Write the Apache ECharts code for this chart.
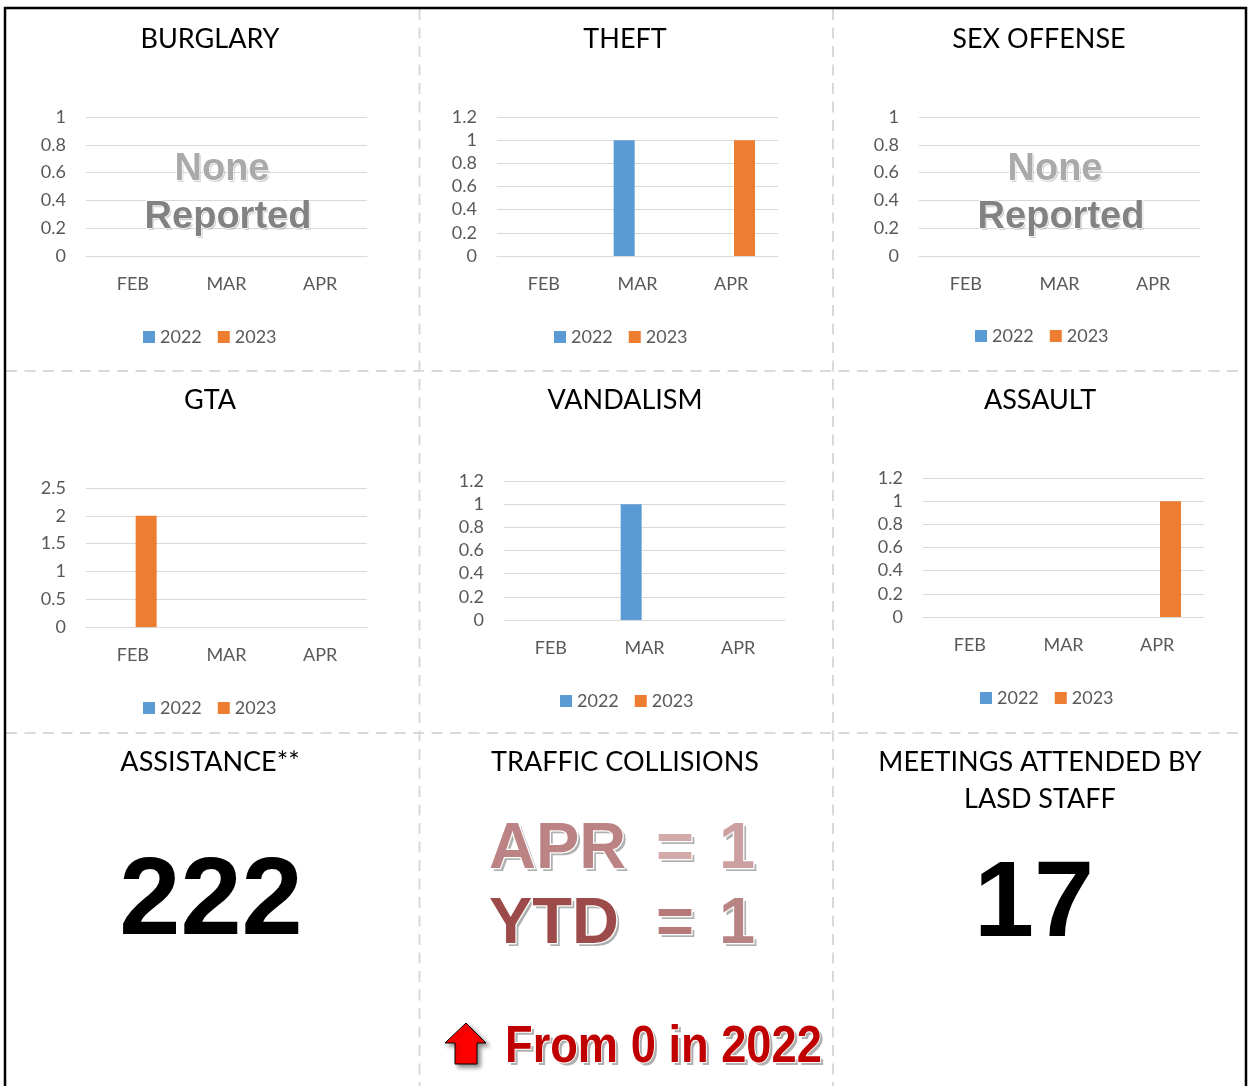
<!DOCTYPE html>
<html><head><meta charset="utf-8">
<script src="https://cdn.jsdelivr.net/npm/echarts@6/dist/echarts.min.js"></script>
<style>html,body{margin:0;padding:0;background:#fff}#c{width:1248px;height:1086px}</style>
</head><body><div id="c"></div>
<script>
// ---- data ----
const months = ['FEB', 'MAR', 'APR'];
const seriesNames = ['2022', '2023'];
const panelTitles = ['BURGLARY', 'THEFT', 'SEX OFFENSE', 'GTA', 'VANDALISM', 'ASSAULT'];
const burglary2022 = [0, 0, 0];
const burglary2023 = [0, 0, 0];
const theft2022 = [0, 1, 0];
const theft2023 = [0, 0, 1];
const sexOffense2022 = [0, 0, 0];
const sexOffense2023 = [0, 0, 0];
const gta2022 = [0, 0, 0];
const gta2023 = [2, 0, 0];
const vandalism2022 = [0, 1, 0];
const vandalism2023 = [0, 0, 0];
const assault2022 = [0, 0, 0];
const assault2023 = [0, 0, 1];
const yMax = [1, 1.2, 1, 2.5, 1.2, 1.2];
const yStep = [0.2, 0.2, 0.2, 0.5, 0.2, 0.2];
const noneReported = [true, false, true, false, false, false];
const assistanceTitle = 'ASSISTANCE**';
const assistanceValue = '222';
const trafficTitle = 'TRAFFIC COLLISIONS';
const trafficMonthLabel = 'APR', trafficMonthValue = '1';
const trafficYtdLabel = 'YTD', trafficYtdValue = '1';
const trafficNote = 'From 0 in 2022';
const meetingsTitle = ['MEETINGS ATTENDED BY', 'LASD STAFF'];
const meetingsValue = '17';

const data2022 = [burglary2022, theft2022, sexOffense2022, gta2022, vandalism2022, assault2022];
const data2023 = [burglary2023, theft2023, sexOffense2023, gta2023, vandalism2023, assault2023];

// ---- layout ----
const gridPos = [
  {left: 86, top: 117}, {left: 497, top: 117}, {left: 919, top: 117},
  {left: 86, top: 488}, {left: 504, top: 481}, {left: 923, top: 478}
];
const legendPos = [
  {left: 143, top: 328}, {left: 554, top: 328}, {left: 975, top: 327},
  {left: 143, top: 699}, {left: 560, top: 692}, {left: 980, top: 689}
];
const titlePos = [[210, 39], [625, 39], [1039, 39], [210, 400], [625, 400], [1040, 400]];
const noneCenters = [[222, 228], null, [1055, 1061]];

const FONT = 'Lato';
const colors = ['#5b9bd5', '#ed7d31'];

const grids = [], xAxes = [], yAxes = [], series = [], legends = [];
for (let i = 0; i < 6; i++) {
  grids.push({left: gridPos[i].left, top: gridPos[i].top, width: 281, height: 139, containLabel: false});
  xAxes.push({
    type: 'category', gridIndex: i, data: months,
    axisLine: {lineStyle: {color: '#d9d9d9', width: 1}},
    axisTick: {show: false},
    axisLabel: {color: '#595959', fontFamily: FONT, fontSize: 18, margin: 19}
  });
  yAxes.push({
    type: 'value', gridIndex: i, min: 0, max: yMax[i], interval: yStep[i],
    axisLine: {show: false}, axisTick: {show: false},
    axisLabel: {color: '#595959', fontFamily: FONT, fontSize: 18, margin: 20},
    splitLine: {lineStyle: {color: '#d9d9d9', width: 1}}
  });
  [data2022[i], data2023[i]].forEach((d, k) => {
    series.push({
      type: 'bar', name: seriesNames[k], xAxisIndex: i, yAxisIndex: i,
      data: d, barWidth: 21, barGap: '27%', itemStyle: {color: colors[k]},
      emphasis: {disabled: true}, silent: true
    });
  });
  legends.push({
    left: legendPos[i].left, top: legendPos[i].top, padding: 0,
    data: seriesNames, icon: 'rect', itemWidth: 12, itemHeight: 12, itemGap: 16,
    textStyle: {color: '#595959', fontFamily: FONT, fontSize: 18}, selectedMode: false
  });
}

const graphics = [];
// outer border
graphics.push({type: 'rect', shape: {x: 5, y: 8, width: 1241, height: 1090}, style: {fill: null, stroke: '#000', lineWidth: 2.5}, z: 1});
// dashed separators
const dash = {stroke: '#d9d9d9', lineWidth: 2, lineDash: [11, 7.5]};
[[419.5, 9, 419.5, 1086], [833, 9, 833, 1086], [6, 371, 1245, 371], [6, 733, 1245, 733]].forEach(p => {
  graphics.push({type: 'line', shape: {x1: p[0], y1: p[1], x2: p[2], y2: p[3]}, style: Object.assign({}, dash), z: 0});
});
function label(text, x, y, opts, extra, z) {
  graphics.push(Object.assign({type: 'text', x: x, y: y, z: z || 50, style: Object.assign({
    text: text, fill: '#000', font: '27px ' + FONT, textAlign: 'center', textVerticalAlign: 'middle'
  }, opts || {})}, extra || {}));
}
// text with a hard drop shadow drawn as a second, offset copy
function shadowed(text, x, y, opts, shadowColor, dx, dy, extra) {
  const sOpts = Object.assign({}, opts, {fill: shadowColor, stroke: null});
  label(text, x + dx, y + dy, sOpts, extra, 48);
  label(text, x, y, opts, extra, 50);
}
// titles
panelTitles.forEach((t, i) => label(t, titlePos[i][0], titlePos[i][1]));
label(assistanceTitle, 210, 762);
label(trafficTitle, 625, 762);
label(meetingsTitle[0], 1040, 762);
label(meetingsTitle[1], 1040, 799);
// None Reported
noneReported.forEach((on, i) => {
  if (!on) return;
  const c = noneCenters[i];
  shadowed('None', c[0], 170, {font: 'bold 38px "Liberation Sans"', fill: '#aaaaaa', stroke: '#fff', lineWidth: 1.5}, 'rgba(0,0,0,0.18)', 1.5, 1.5);
  shadowed('Reported', c[1], 218, {font: 'bold 38px "Liberation Sans"', fill: '#828282', stroke: '#fff', lineWidth: 1.5}, 'rgba(0,0,0,0.18)', 1.5, 1.5);
});
// big numbers
label(assistanceValue, 211, 904, {font: 'bold 110px "Liberation Sans"'});
label(meetingsValue, 1034, 906, {font: 'bold 108px "Liberation Sans"'});
// traffic collisions
const tf = 'bold 65px "Liberation Sans"';
const tOpts = {font: tf, stroke: '#fff', lineWidth: 2.5, textAlign: 'left'};
const sh = '#b0b0b0';
shadowed(trafficMonthLabel, 489, 850, Object.assign({fill: '#bb8383'}, tOpts), sh, 3, 3);
shadowed('=', 656, 850, Object.assign({fill: '#d3aaaa'}, tOpts), sh, 3, 3);
shadowed(trafficMonthValue, 719, 850, Object.assign({fill: '#cca0a0'}, tOpts), sh, 3, 3);
shadowed(trafficYtdLabel, 489, 925, Object.assign({fill: '#9c4a4a'}, tOpts), sh, 3, 3);
shadowed('=', 656, 925, Object.assign({fill: '#b67878'}, tOpts), sh, 3, 3);
shadowed(trafficYtdValue, 719, 925, Object.assign({fill: '#b78383'}, tOpts), sh, 3, 3);
// arrow + note
graphics.push({type: 'polygon', z: 50, shape: {points: [[466, 1023], [486, 1043], [477, 1043], [477, 1064], [455, 1064], [455, 1043], [445, 1043]]},
  style: {fill: '#ff0000', stroke: '#000', lineWidth: 1, shadowColor: 'rgba(0,0,0,0.45)', shadowBlur: 4, shadowOffsetX: 3, shadowOffsetY: 3}});
shadowed(trafficNote, 505, 1048, {font: 'bold 52px "Liberation Sans"', fill: '#c00000', textAlign: 'left', stroke: '#fff', lineWidth: 2},
  '#b0b0b0', 3, 3, {scaleX: 0.87, scaleY: 1});

const chart = echarts.init(document.getElementById('c'), null, {renderer: 'canvas'});
chart.setOption({
  animation: false,
  backgroundColor: '#fff',
  grid: grids, xAxis: xAxes, yAxis: yAxes, series: series, legend: legends,
  graphic: {elements: graphics}
});
</script></body></html>
